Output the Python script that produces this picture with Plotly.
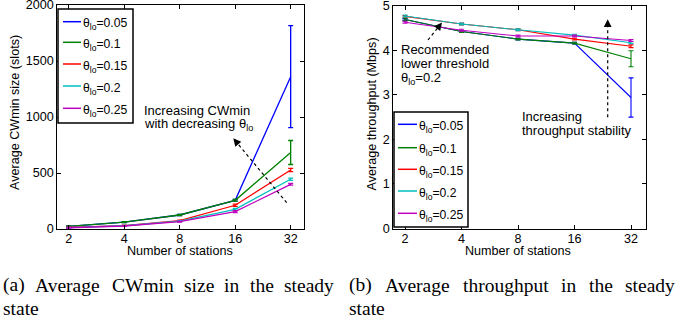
import math
import plotly.graph_objects as go

# ---------------- data ----------------
stations = [2, 4, 8, 16, 32]
station_labels = ["2", "4", "8", "16", "32"]
thresholds = ["0.05", "0.1", "0.15", "0.2", "0.25"]
colors = ["#0000FF", "#008000", "#FF0000", "#00BFBF", "#BF00BF"]

cw_005 = [24, 62, 125, 256, 1360]
cw_010 = [24, 62, 125, 256, 683]
cw_015 = [14, 31, 75, 212, 527]
cw_020 = [12, 29, 70, 176, 444]
cw_025 = [11, 27, 66, 155, 399]
cw_err_005 = [4, 4, 5, 8, 455]
cw_err_010 = [4, 4, 5, 8, 107]
cw_err_015 = [3, 4, 5, 10, 15]
cw_err_020 = [3, 4, 5, 8, 10]
cw_err_025 = [3, 4, 5, 8, 8]

tp_005 = [4.69, 4.42, 4.25, 4.16, 2.94]
tp_010 = [4.69, 4.42, 4.25, 4.16, 3.81]
tp_015 = [4.76, 4.59, 4.46, 4.25, 4.09]
tp_020 = [4.77, 4.59, 4.46, 4.34, 4.17]
tp_025 = [4.63, 4.45, 4.32, 4.32, 4.22]
tp_err_005 = [0.02, 0.02, 0.02, 0.02, 0.44]
tp_err_010 = [0.03, 0.02, 0.02, 0.02, 0.18]
tp_err_015 = [0.02, 0.02, 0.02, 0.02, 0.03]
tp_err_020 = [0.02, 0.02, 0.02, 0.02, 0.02]
tp_err_025 = [0.02, 0.02, 0.02, 0.02, 0.02]

cw_series = [cw_005, cw_010, cw_015, cw_020, cw_025]
cw_errors = [cw_err_005, cw_err_010, cw_err_015, cw_err_020, cw_err_025]
tp_series = [tp_005, tp_010, tp_015, tp_020, tp_025]
tp_errors = [tp_err_005, tp_err_010, tp_err_015, tp_err_020, tp_err_025]

cw_ticks = [0, 500, 1000, 1500, 2000]
tp_ticks = [0, 1, 2, 3, 4, 5]

caption_a = ["(a)", "Average", "CWmin", "size", "in", "the", "steady"]
caption_b = ["(b)", "Average", "throughput", "in", "the", "steady"]

# ---------------- layout helpers ----------------
W, H = 677, 322
SANS = "Liberation Sans, Arial, Helvetica, sans-serif"
SERIF = "Liberation Serif, Times New Roman, serif"
FS = 12.6


def px(x):
    return x / W


def py(y):
    return 1 - y / H


fig = go.Figure()

for i, (vals, err) in enumerate(zip(cw_series, cw_errors)):
    fig.add_trace(go.Scatter(
        x=stations, y=vals, mode="lines", xaxis="x", yaxis="y",
        line=dict(color=colors[i], width=1.3), showlegend=False,
        error_y=dict(type="data", array=err, visible=True, color=colors[i],
                     thickness=1.3, width=2.5)))

for i, (vals, err) in enumerate(zip(tp_series, tp_errors)):
    fig.add_trace(go.Scatter(
        x=stations, y=vals, mode="lines", xaxis="x2", yaxis="y2",
        line=dict(color=colors[i], width=1.1), showlegend=False,
        error_y=dict(type="data", array=err, visible=True, color=colors[i],
                     thickness=1.1, width=2.5)))

axis_common = dict(showline=True, linecolor="black", linewidth=1, mirror="ticks",
                   ticks="inside", ticklen=4, tickcolor="black", tickwidth=1,
                   showgrid=False, zeroline=False, ticklabeloverflow="allow",
                   automargin=False,
                   tickfont=dict(family=SANS, size=FS, color="black"))

fig.update_layout(
    width=W, height=H,
    margin=dict(l=0, r=0, t=0, b=0, pad=0, autoexpand=False),
    paper_bgcolor="white", plot_bgcolor="white",
    xaxis=dict(domain=[px(57.3), px(304)], type="log",
               range=[0.7946 * math.log10(2), 5.240 * math.log10(2)],
               tickvals=stations, ticktext=station_labels, anchor="y",
               ticklabelstandoff=-2, **axis_common),
    yaxis=dict(domain=[py(229), py(5)], range=[0, 2000], tickvals=cw_ticks,
               anchor="x", **axis_common),
    xaxis2=dict(domain=[px(393.3), px(646)], type="log",
                range=[0.7929 * math.log10(2), 5.2655 * math.log10(2)],
                tickvals=stations, ticktext=station_labels, anchor="y2",
                ticklabelstandoff=-2, **axis_common),
    yaxis2=dict(domain=[py(228.5), py(5.7)], range=[0, 5], tickvals=tp_ticks,
                anchor="x2", **axis_common),
)

shapes = []
annotations = []


def text(x, y, s, size=FS, xanchor="left", yanchor="middle", angle=0, family=SANS):
    annotations.append(dict(x=px(x), y=py(y), xref="paper", yref="paper", text=s,
                            showarrow=False, xanchor=xanchor, yanchor=yanchor,
                            textangle=angle, font=dict(family=family, size=size, color="black"),
                            borderpad=0, borderwidth=0))


def legend(x0, y0, x1, y1, rows, lx0, lx1, tx):
    shapes.append(dict(type="rect", xref="paper", yref="paper", x0=px(x0), x1=px(x1),
                       y0=py(y0), y1=py(y1), line=dict(color="black", width=1.5),
                       fillcolor="white", layer="above"))
    for i, ry in enumerate(rows):
        shapes.append(dict(type="line", xref="paper", yref="paper", x0=px(lx0), x1=px(lx1),
                           y0=py(ry), y1=py(ry), line=dict(color=colors[i], width=1.5),
                           layer="above"))
        text(tx, ry + 2.5, "θ<sub>lo</sub>=" + thresholds[i], size=12.2)


def arrow(tx, ty, hx, hy):
    dx, dy = tx - hx, ty - hy
    L = math.hypot(dx, dy)
    ux, uy = dx / L, dy / L
    shapes.append(dict(type="line", xref="paper", yref="paper", x0=px(tx), y0=py(ty),
                       x1=px(hx + ux * 5), y1=py(hy + uy * 5),
                       line=dict(color="black", width=1.2, dash="3px,3px"), layer="above"))
    annotations.append(dict(x=px(hx), y=py(hy), xref="paper", yref="paper", text="",
                            showarrow=True, ax=ux * 7, ay=uy * 7, arrowhead=2,
                            arrowsize=1.2, arrowwidth=1.3, arrowcolor="black"))


# legends
legend(58, 9, 133, 123, [21.7, 42.3, 64, 86, 108.3], 63, 81, 82.5)
legend(394, 112, 468, 227, [124.3, 147.7, 169.3, 191, 213.3], 398, 417, 419)

# axis titles
text(15, 113, "Average CWmin size (slots)", xanchor="center", angle=-90)
text(371.5, 114, "Average throughput (Mbps)", xanchor="center", angle=-90)
text(179.7, 251.5, "Number of stations", xanchor="center")
text(518, 251.5, "Number of stations", xanchor="center")

# in-plot annotations
text(144, 110, "Increasing CWmin", size=13)
text(144, 124.5, "with decreasing θ<sub>lo</sub>", size=13)
arrow(286.7, 202.7, 233.3, 138.3)

text(401, 49, "Recommended", size=13)
text(401, 63.3, "lower threshold", size=13)
text(401, 79, "θ<sub>lo</sub>=0.2", size=13)
arrow(428, 40, 442, 22.5)

text(521.7, 116.7, "Increasing", size=13)
text(521.7, 130.7, "throughput stability", size=13)
arrow(607.7, 117.3, 607.7, 19.3)

# justified captions (Times metrics)
TW = {"(": 333, ")": 333, "a": 444, "b": 500, "A": 722, "v": 500, "e": 444, "r": 333,
      "g": 500, "C": 667, "W": 944, "m": 778, "i": 278, "n": 500, "s": 389, "z": 444,
      "t": 278, "h": 500, "d": 500, "y": 500, "o": 500, "u": 500, "p": 500}
CAP = 19.5


def justified(words, x0, x1, y):
    widths = [sum(TW.get(c, 500) for c in w) / 1000 * CAP for w in words]
    gap = (x1 - x0 - sum(widths)) / (len(words) - 1)
    x = x0
    for w, wd in zip(words, widths):
        text(x, y, w, size=CAP, family=SERIF, yanchor="middle")
        x += wd + gap


justified(caption_a, 3.3, 334, 285)
justified(caption_b, 349.3, 675, 285)
text(3.3, 308, "state", size=CAP, family=SERIF)
text(349.3, 308, "state", size=CAP, family=SERIF)

fig.update_layout(shapes=shapes, annotations=annotations)
fig.write_html("out.html", config={"displayModeBar": False},
               post_script="document.body.style.margin='0';")
